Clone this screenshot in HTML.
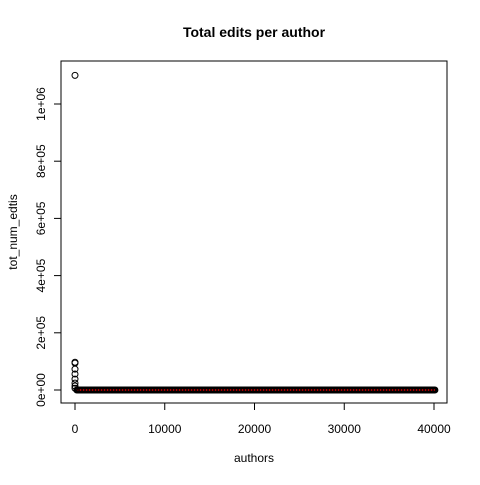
<!DOCTYPE html>
<html><head><meta charset="utf-8"><style>
body{margin:0;background:#fff;}
svg text{font-family:"Liberation Sans",sans-serif;}
</style></head><body>
<svg id="chart" width="480" height="480" viewBox="0 0 480 480" xmlns="http://www.w3.org/2000/svg">
<rect width="480" height="480" fill="#fff"/>
<text x="254" y="37" font-size="14" font-weight="bold" text-anchor="middle">Total edits per author</text>
<text x="254" y="462" font-size="12" text-anchor="middle">authors</text>
<text x="0" y="0" font-size="12" text-anchor="middle" transform="translate(17,232) rotate(-90)">tot_num_edtis</text>
<rect x="61" y="61" width="386" height="342" fill="none" stroke="#000" stroke-width="1"/>
<g id="xaxis"></g>
<g id="yaxis"></g>
<g id="marks"></g>
</svg>
<script>
const xTicks=[0,10000,20000,30000,40000];
const xTickLabels=["0","10000","20000","30000","40000"];
const yTicks=[0,200000,400000,600000,800000,1000000];
const yTickLabels=["0e+00","2e+05","4e+05","6e+05","8e+05","1e+06"];
const outlierX=[0,0,0,0,0,0,0,0,0];
const outlierY=[1100000,97000,94000,73000,56000,38000,24000,14000,6000];
const bandStart=200;
const bandEnd=40100;
const bandValue=0;
const NS="http://www.w3.org/2000/svg";
const X=v=>75+v*(434-75)/40000;
const Y=v=>390-v*(390-104)/1000000;
function mk(t,a,p){const e=document.createElementNS(NS,t);for(const k in a)e.setAttribute(k,a[k]);p.appendChild(e);return e;}
const xa=document.getElementById('xaxis'),ya=document.getElementById('yaxis'),mg=document.getElementById('marks');
mk('line',{x1:X(xTicks[0]),x2:X(xTicks[xTicks.length-1]),y1:403,y2:403,stroke:'#000'},xa);
xTicks.forEach((t,i)=>{
 const l=mk('line',{x1:X(t),x2:X(t),y1:403,y2:410,stroke:'#000'},xa);
 
 
 const tx=mk('text',{x:X(t),y:433,'font-size':12,'text-anchor':'middle'},xa);tx.textContent=xTickLabels[i];
 
 
});
mk('line',{x1:61,x2:61,y1:Y(yTicks[0]),y2:Y(yTicks[yTicks.length-1]),stroke:'#000'},ya);
yTicks.forEach((t,i)=>{
 const l=mk('line',{x1:54,x2:61,y1:Y(t),y2:Y(t),stroke:'#000'},ya);
 
 
 const tx=mk('text',{x:0,y:0,'font-size':12,'text-anchor':'middle',transform:`translate(45,${Y(t)}) rotate(-90)`},ya);tx.textContent=yTickLabels[i];
 
 
});
// dense band of points near zero
const band=mk('line',{x1:X(bandStart),x2:X(bandEnd),y1:Y(bandValue),y2:Y(bandValue),stroke:'#000','stroke-width':7,'stroke-linecap':'round'},mg);


const red=mk('line',{x1:X(bandStart),x2:X(bandEnd),y1:Y(bandValue),y2:Y(bandValue),stroke:'#e00000','stroke-width':1.5,'stroke-dasharray':'1.5 1.5'},mg);


outlierX.forEach((x,i)=>{
 const c=mk('circle',{cx:X(x),cy:Y(outlierY[i]),r:3,fill:'none',stroke:'#000','stroke-width':1},mg);
 
 
});
</script>
</body></html>
